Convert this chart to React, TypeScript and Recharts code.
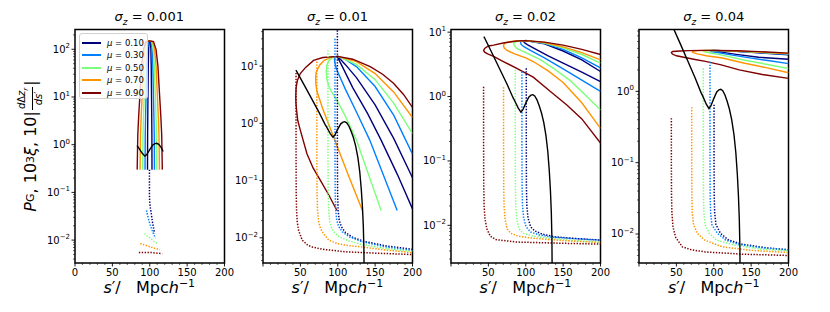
import React from "react";
import { LineChart, Line, XAxis, YAxis, ReferenceArea } from "recharts";

type Pt = [number, number];

const FONT = "DejaVu Sans, sans-serif";
const MU_LABELS = ["0.10", "0.30", "0.50", "0.70", "0.90"];
const MU_COLORS = ["#00007f", "#0080ff", "#7dff7a", "#ff9400", "#7f0000"];
const SIGMA_LABELS = ["0.001", "0.01", "0.02", "0.04"];
const X_TICKS = [0, 10, 20, 30, 40, 50, 60, 70, 80, 90, 100, 110, 120, 130, 140, 150, 160, 170, 180, 190, 200];
const X_LABELED = [0, 50, 100, 150, 200];
const DECADES = [0.001, 0.01, 0.1, 1, 10, 100];
const DECADE_STEPS = [1, 2, 3, 4, 5, 6, 7, 8, 9];

// xi * 1e3 (black), shared by all panels
const BLACK: Pt[] = [
  [44, 8.5], [45, 8.1], [55, 4.7], [65, 2.7], [75, 1.55], [83, 0.96], [85, 0.87], [90, 0.66],
  [93.5, 0.575], [96, 0.62], [100, 0.79], [104, 0.98], [107, 1.05], [109.5, 1.07], [112, 1.02],
  [115, 0.89], [118, 0.72], [121, 0.56], [124, 0.4], [127, 0.25], [129.5, 0.14], [131.5, 0.07],
  [133, 0.035], [134.2, 0.016], [135, 0.0063], [135.5, 0.001],
];

// sigma_z = 0.001
const P1_NAVY: Pt[] = [[97, 0.3], [97.15, 1.6], [97.36, 4], [97.63, 10], [98.05, 45], [98.5, 100], [99.1, 145], [100, 150], [100.9, 145], [101.5, 100], [101.95, 45], [102.37, 10], [102.64, 4], [102.85, 1.6], [103, 0.3]];
const P1_BLUE: Pt[] = [[93.7, 0.3], [94, 1.6], [94.46, 4], [95.02, 10], [95.9, 45], [96.85, 100], [98.11, 145], [100, 150], [101.89, 145], [103.15, 100], [104.1, 45], [104.98, 10], [105.54, 4], [106, 1.6], [106.3, 0.3]];
const P1_GREEN: Pt[] = [[90.5, 0.3], [90.98, 1.6], [91.64, 4], [92.5, 10], [93.83, 45], [95.25, 100], [97.15, 145], [100, 150], [102.85, 145], [104.75, 100], [106.17, 45], [107.5, 10], [108.36, 4], [109.02, 1.6], [109.5, 0.3]];
const P1_ORANGE: Pt[] = [[87, 0.3], [87.65, 1.6], [88.56, 4], [89.73, 10], [91.55, 45], [93.5, 100], [96.1, 145], [100, 150], [103.9, 145], [106.5, 100], [108.45, 45], [110.27, 10], [111.44, 4], [112.35, 1.6], [113, 0.3]];
const P1_RED: Pt[] = [[83.2, 0.3], [84, 1.6], [85.2, 4], [86.7, 10], [89.1, 45], [91.6, 100], [95, 145], [100, 150], [105, 145], [108.4, 100], [110.9, 45], [113.3, 10], [114.8, 4], [116, 1.6], [116.8, 0.3]];
const P1_DOT_NAVY: Pt[] = [[99.6, 0.3], [99.6, 0.1], [99.8, 0.068], [100.6, 0.05], [102, 0.036], [104, 0.022], [106.4, 0.0138]];
const P1_DOT_BLUE: Pt[] = [[95.7, 0.042], [97, 0.033], [98.8, 0.026], [101, 0.02], [103.2, 0.016], [105.5, 0.013], [107.7, 0.011]];
const P1_DOT_GREEN: Pt[] = [[93, 0.0138], [97, 0.012], [101, 0.011], [105, 0.0095], [110, 0.0085]];
const P1_DOT_ORANGE: Pt[] = [[87.2, 0.0085], [94, 0.0078], [101, 0.0072], [107, 0.0067], [113.6, 0.0063]];
const P1_DOT_RED: Pt[] = [[85.4, 0.0055], [101, 0.0055], [116.6, 0.0052]];

// sigma_z = 0.01
const P2_NAVY: Pt[] = [[200, 0.032], [180, 0.126], [158, 0.51], [140, 1.48], [120, 4.2], [105, 10.5], [99.5, 14.5], [100, 14.8], [110, 10.7], [125, 6.3], [150, 2.1], [175, 0.54], [200, 0.112]];
const P2_BLUE: Pt[] = [[179.5, 0.03], [160, 0.135], [142.8, 0.51], [125, 1.58], [110, 4.0], [100, 7.9], [97, 10], [95.5, 13.2], [97.5, 14.5], [100, 14.8], [110, 13.1], [125, 9.8], [150, 4.4], [175, 1.38], [200, 0.29]];
const P2_GREEN: Pt[] = [[158, 0.03], [140, 0.141], [125, 0.51], [110, 1.35], [100, 2.4], [92, 3.5], [88, 4.5], [85.5, 5.8], [84.6, 8.1], [85.5, 10.5], [88, 12.3], [93, 14.1], [100, 14.8], [125, 10.7], [150, 5.8], [175, 2.24], [200, 0.66]];
const P2_ORANGE: Pt[] = [[133, 0.03], [115, 0.117], [96, 0.51], [80, 1.78], [75, 2.8], [72, 3.7], [70.8, 4.8], [70.5, 6.2], [71, 7.6], [72, 8.3], [76, 10.5], [82, 12.6], [90, 14.1], [100, 14.8], [125, 12], [150, 7.4], [175, 3.5], [200, 1.26]];
const P2_RED: Pt[] = [[98.9, 0.03], [88, 0.056], [76.6, 0.102], [67, 0.166], [58.8, 0.295], [49.9, 0.76], [46.5, 1.12], [44.9, 1.7], [44.1, 2.24], [43.8, 2.9], [44.3, 4.2], [46, 5.6], [49.9, 7.4], [57, 9.5], [67.7, 12.6], [80, 14.1], [100, 14.8], [120, 13.2], [143.4, 9.8], [160, 7.2], [174.6, 5.0], [188, 3.2], [200, 1.9]];
const P2_DOT_NAVY: Pt[] = [[99.5, 60], [99.5, 0.3], [99.8, 0.06], [100.5, 0.03], [102, 0.02], [105, 0.0155], [110, 0.0125], [120, 0.0102], [135, 0.0087], [165, 0.0072], [200, 0.0063]];
const P2_DOT_BLUE: Pt[] = [[96.3, 30], [96.3, 0.3], [96.6, 0.06], [97.3, 0.03], [98.7, 0.02], [101.6, 0.0155], [106, 0.0128], [115, 0.0105], [133, 0.0085], [165, 0.0069], [200, 0.006]];
const P2_DOT_GREEN: Pt[] = [[86.9, 19], [86.9, 0.3], [87.2, 0.06], [87.9, 0.03], [89.3, 0.019], [92, 0.0145], [96, 0.0122], [101.6, 0.0105], [115, 0.0088], [133, 0.0076], [165, 0.0065], [200, 0.0058]];
const P2_DOT_ORANGE: Pt[] = [[72, 12], [72, 0.3], [72.3, 0.06], [73, 0.03], [74.5, 0.019], [77, 0.0145], [81, 0.0118], [88, 0.0091], [100, 0.0079], [115, 0.0073], [133, 0.0069], [165, 0.0061], [200, 0.0055]];
const P2_DOT_RED: Pt[] = [[44.2, 7.6], [44.2, 0.3], [44.4, 0.06], [44.9, 0.03], [45.8, 0.019], [47.6, 0.0135], [52.5, 0.0091], [60, 0.0074], [66, 0.0069], [80, 0.0063], [110, 0.0057], [150, 0.0054], [200, 0.0051]];

// sigma_z = 0.02
const P3_NAVY: Pt[] = [[200, 1.7], [175, 2.4], [150, 3.3], [130, 4.3], [110, 5.7], [102, 6.4], [98, 6.9], [97, 7.3], [100, 7.4], [125, 6.6], [150, 5.1], [175, 3.7], [200, 2.45]];
const P3_BLUE: Pt[] = [[200, 1.2], [175, 1.8], [150, 2.7], [125, 4.0], [105, 5.3], [97, 6.0], [93.6, 6.5], [93, 7.1], [95, 7.3], [100, 7.4], [125, 6.7], [150, 5.4], [175, 4.0], [200, 2.8]];
const P3_GREEN: Pt[] = [[200, 0.62], [180, 1.05], [160, 1.75], [140, 2.6], [120, 3.7], [100, 4.8], [88, 5.6], [84.6, 6.2], [84, 6.8], [86, 7.1], [92, 7.3], [100, 7.4], [125, 6.8], [150, 5.7], [175, 4.5], [200, 3.3]];
const P3_ORANGE: Pt[] = [[200, 0.32], [175, 0.8], [150, 1.65], [130, 2.5], [110, 3.5], [100, 4.0], [85, 4.6], [75, 5.2], [71, 5.7], [70.3, 6.3], [72, 6.8], [78, 7.1], [88, 7.3], [100, 7.4], [125, 6.9], [150, 5.9], [175, 4.8], [200, 3.7]];
const P3_RED: Pt[] = [[200, 0.19], [175, 0.45], [155, 0.74], [133, 1.2], [110, 2.0], [88, 2.75], [70, 3.5], [57, 4.2], [49, 4.6], [45, 4.9], [43.6, 5.2], [45, 5.6], [50, 6.1], [57, 6.3], [70, 6.8], [88, 7.3], [100, 7.4], [125, 7.0], [150, 6.3], [175, 5.4], [200, 4.5]];
const P3_DOT_NAVY: Pt[] = [[100.7, 2.75], [100.7, 0.2], [100.9, 0.04], [101.5, 0.02], [103, 0.013], [106.5, 0.0095], [112, 0.0082], [122, 0.0073], [140, 0.0066], [170, 0.0062], [200, 0.0059]];
const P3_DOT_BLUE: Pt[] = [[94.9, 2.45], [94.9, 0.2], [95.1, 0.04], [95.7, 0.02], [97.2, 0.013], [100.5, 0.0095], [106.3, 0.0079], [118, 0.0071], [133, 0.0066], [165, 0.0062], [200, 0.0059]];
const P3_DOT_GREEN: Pt[] = [[86, 2.6], [86, 0.2], [86.2, 0.04], [86.7, 0.02], [88, 0.0125], [91, 0.0088], [97, 0.0075], [110, 0.0068], [133, 0.0063], [165, 0.0058], [200, 0.0055]];
const P3_DOT_ORANGE: Pt[] = [[70.3, 1.4], [70.3, 0.2], [70.5, 0.04], [71, 0.02], [72.3, 0.0125], [75, 0.0088], [80, 0.0075], [90, 0.0068], [110, 0.0063], [150, 0.0058], [200, 0.0054]];
const P3_DOT_RED: Pt[] = [[43.6, 1.42], [43.6, 0.2], [43.8, 0.04], [44.3, 0.02], [45.5, 0.0125], [48, 0.0088], [52.5, 0.0068], [60, 0.006], [88, 0.0055], [140, 0.0053], [200, 0.0051]];

// sigma_z = 0.04
const P4_NAVY: Pt[] = [[200, 2.82], [160, 3.0], [130, 3.3], [110, 3.55], [100.5, 3.66], [99, 3.74], [100, 3.75], [130, 3.64], [160, 3.47], [200, 3.24]];
const P4_BLUE: Pt[] = [[200, 2.45], [175, 2.68], [150, 2.92], [125, 3.22], [105, 3.5], [96, 3.62], [95, 3.72], [100, 3.75], [130, 3.65], [160, 3.5], [200, 3.31]];
const P4_GREEN: Pt[] = [[200, 2.09], [170, 2.4], [140, 2.75], [110, 3.25], [95, 3.45], [87, 3.6], [86, 3.7], [90, 3.73], [100, 3.75], [130, 3.66], [160, 3.52], [200, 3.35]];
const P4_ORANGE: Pt[] = [[200, 1.82], [170, 2.15], [140, 2.5], [111.6, 2.93], [90, 3.15], [78, 3.35], [72, 3.5], [71.4, 3.63], [73, 3.68], [80, 3.72], [90, 3.74], [100, 3.75], [130, 3.68], [160, 3.55], [200, 3.38]];
const P4_RED: Pt[] = [[200, 1.52], [165, 1.72], [134, 2.0], [110, 2.35], [89, 2.63], [75, 2.8], [60, 3.0], [50, 3.15], [44.6, 3.33], [43.3, 3.52], [45, 3.62], [55, 3.68], [67, 3.72], [85, 3.75], [100, 3.75], [130, 3.7], [160, 3.6], [200, 3.43]];
const P4_DOT_NAVY: Pt[] = [[100.4, 0.65], [100.4, 0.1], [100.6, 0.035], [101.2, 0.02], [103, 0.0135], [109, 0.0102], [120, 0.0082], [138, 0.0072], [170, 0.0064], [200, 0.006]];
const P4_DOT_BLUE: Pt[] = [[95, 2.6], [95, 0.1], [95.2, 0.035], [95.8, 0.02], [97.5, 0.0135], [105, 0.0102], [116, 0.0082], [134, 0.0071], [165, 0.0064], [200, 0.006]];
const P4_DOT_GREEN: Pt[] = [[86, 2.1], [86, 0.1], [86.2, 0.035], [86.8, 0.02], [88.5, 0.0135], [94, 0.0102], [104, 0.0082], [125, 0.0071], [160, 0.0062], [200, 0.0058]];
const P4_DOT_ORANGE: Pt[] = [[70.5, 0.6], [70.5, 0.1], [70.7, 0.035], [71.3, 0.02], [73, 0.0135], [78, 0.0102], [88, 0.0082], [111.6, 0.0066], [150, 0.0059], [200, 0.0055]];
const P4_DOT_RED: Pt[] = [[43.3, 0.42], [43.3, 0.1], [43.5, 0.035], [44, 0.02], [45.5, 0.0125], [49, 0.009], [58, 0.0066], [70, 0.006], [89, 0.0056], [140, 0.0052], [200, 0.005]];

const PANELS = [
  {
    left: 74.5, yDomain: [0.00331, 260],
    solid: [P1_NAVY, P1_BLUE, P1_GREEN, P1_ORANGE, P1_RED],
    dotted: [P1_DOT_NAVY, P1_DOT_BLUE, P1_DOT_GREEN, P1_DOT_ORANGE, P1_DOT_RED],
    black: BLACK.filter(([s]) => s >= 83 && s <= 118),
    zeroLabel: true,
  },
  {
    left: 262.7, yDomain: [0.00363, 43.6],
    solid: [P2_NAVY, P2_BLUE, P2_GREEN, P2_ORANGE, P2_RED],
    dotted: [P2_DOT_NAVY, P2_DOT_BLUE, P2_DOT_GREEN, P2_DOT_ORANGE, P2_DOT_RED],
    black: BLACK, zeroLabel: false,
  },
  {
    left: 450.7, yDomain: [0.0026, 11.0],
    solid: [P3_NAVY, P3_BLUE, P3_GREEN, P3_ORANGE, P3_RED],
    dotted: [P3_DOT_NAVY, P3_DOT_BLUE, P3_DOT_GREEN, P3_DOT_ORANGE, P3_DOT_RED],
    black: BLACK, zeroLabel: false,
  },
  {
    left: 639, yDomain: [0.00392, 7.36],
    solid: [P4_NAVY, P4_BLUE, P4_GREEN, P4_ORANGE, P4_RED],
    dotted: [P4_DOT_NAVY, P4_DOT_BLUE, P4_DOT_GREEN, P4_DOT_ORANGE, P4_DOT_RED],
    black: BLACK, zeroLabel: false,
  },
];

const PLOT_TOP = 29.5;
const PLOT_W = 149.5;
const YAXIS_W = 40;
const RIGHT_PAD = 14;

const rows = (pts: Pt[]) => pts.map(([s, v]) => ({ s, v }));

function YTick(props: any) {
  const { x, y, payload } = props;
  const lg = Math.log10(payload.value);
  const e = Math.round(lg);
  const major = Math.abs(lg - e) < 1e-6;
  return (
    <g>
      <line x1={x} x2={x - (major ? 3.5 : 2)} y1={y} y2={y} stroke="#000" strokeWidth={major ? 0.9 : 0.6} />
      {major && (
        <text x={x - 5} y={y + 3.5} textAnchor="end" fontSize={10} fontFamily={FONT} fill="#000">
          10<tspan dy={-4.5} fontSize={7}>{e < 0 ? "\u2212" + -e : String(e)}</tspan>
        </text>
      )}
    </g>
  );
}

function makeXTick(zeroLabel: boolean) {
  return (props: any) => {
    const { x, y, payload } = props;
    const v = payload.value;
    const major = X_LABELED.includes(v);
    const showLabel = major && (zeroLabel || v !== 0);
    return (
      <g>
        <line x1={x} x2={x} y1={y} y2={y + (major ? 3.5 : 2)} stroke="#000" strokeWidth={major ? 0.9 : 0.6} />
        {showLabel && (
          <text x={x} y={y + 12.5} textAnchor="middle" fontSize={10} fontFamily={FONT} fill="#000">
            {v}
          </text>
        )}
      </g>
    );
  };
}

function Panel({ idx }: { idx: number }) {
  const p = PANELS[idx];
  const [lo, hi] = p.yDomain;
  const yTicks: number[] = [];
  DECADES.forEach((d) => DECADE_STEPS.forEach((m) => {
    const t = d * m;
    if (t >= lo && t <= hi) yTicks.push(t);
  }));
  const chartW = YAXIS_W + PLOT_W + RIGHT_PAD;
  return (
    <div style={{ position: "absolute", left: p.left - YAXIS_W, top: 0 }}>
      <LineChart width={chartW} height={312} margin={{ top: PLOT_TOP, right: RIGHT_PAD, bottom: 19, left: 0 }}>
        <XAxis
          type="number" dataKey="s" domain={[0, 200]} ticks={X_TICKS} allowDataOverflow
          axisLine={false} tickLine={false} tickSize={0} tickMargin={0} height={30}
          interval={0} tick={makeXTick(p.zeroLabel)}
        />
        <YAxis
          type="number" scale="log" domain={[lo, hi]} ticks={yTicks} allowDataOverflow
          axisLine={false} tickLine={false} tickSize={0} tickMargin={0} width={YAXIS_W}
          interval={0} tick={<YTick />}
        />
        {p.solid.map((pts, i) => (
          <Line key={"s" + i} data={rows(pts)} dataKey="v" type="linear" stroke={MU_COLORS[i]}
            strokeWidth={1.4} dot={false} activeDot={false} isAnimationActive={false} />
        ))}
        {p.dotted.map((pts, i) => (
          <Line key={"d" + i} data={rows(pts)} dataKey="v" type="linear" stroke={MU_COLORS[i]}
            strokeWidth={1.5} strokeDasharray="1.4 1.5" dot={false} activeDot={false} isAnimationActive={false} />
        ))}
        <Line data={rows(p.black)} dataKey="v" type="linear" stroke="#000" strokeWidth={1.4}
          dot={false} activeDot={false} isAnimationActive={false} />
        <ReferenceArea x1={0} x2={200} y1={lo} y2={hi} fill="none" stroke="#000" strokeWidth={1.5} ifOverflow="visible" />
      </LineChart>
      <div style={{ position: "absolute", left: YAXIS_W, top: 9, width: PLOT_W, textAlign: "center", fontSize: 13, fontFamily: FONT, whiteSpace: "nowrap" }}>
        <i>σ</i><sub style={{ fontSize: 9 }}><i>z</i></sub> = {SIGMA_LABELS[idx]}
      </div>
      <div style={{ position: "absolute", left: YAXIS_W, top: 277, width: PLOT_W, textAlign: "center", fontSize: 16, fontFamily: FONT, whiteSpace: "pre" }}>
        <i>s</i>{"′/   Mpc"}<i>h</i><sup style={{ fontSize: 11 }}>{"\u22121"}</sup>
      </div>
    </div>
  );
}

function Legend() {
  return (
    <div style={{ position: "absolute", left: 79, top: 32.7, width: 69, height: 66, background: "rgba(255,255,255,0.8)", border: "1px solid #d0d0d0", borderRadius: 3, boxSizing: "border-box", fontFamily: FONT }}>
      {MU_LABELS.map((m, i) => (
        <div key={m} style={{ position: "absolute", left: 2, top: 3 + i * 12.5, height: 12, display: "flex", alignItems: "center" }}>
          <div style={{ width: 19, height: 1.8, background: MU_COLORS[i] }} />
          <span style={{ marginLeft: 6, fontSize: 8.5, whiteSpace: "nowrap" }}><i>μ</i> = {m}</span>
        </div>
      ))}
    </div>
  );
}

export default function App() {
  return (
    <div style={{ position: "absolute", left: 0, top: 0, width: 830, height: 312, background: "#fff", overflow: "hidden" }}>
      {PANELS.map((_, i) => <Panel key={i} idx={i} />)}
      <Legend />
      <div style={{ position: "absolute", left: 30 - 120, top: 146 - 14, width: 240, height: 28, display: "flex", alignItems: "center", justifyContent: "center", transform: "rotate(-90deg)", fontSize: 16, fontFamily: FONT, whiteSpace: "nowrap" }}>
        <i>P</i><sub style={{ fontSize: 11 }}>G</sub>,&nbsp;10<sup style={{ fontSize: 11 }}>3</sup><i>ξ</i>,&nbsp;10|
        <span style={{ display: "inline-flex", flexDirection: "column", alignItems: "center", fontSize: 10, lineHeight: "11px", margin: "0 1px" }}>
          <span style={{ borderBottom: "1px solid #000", padding: "0 1px" }}><i>d</i>Δ<i>z</i><sub style={{ fontSize: 7 }}><i>r</i></sub></span>
          <span><i>ds</i>′</span>
        </span>|
      </div>
    </div>
  );
}
